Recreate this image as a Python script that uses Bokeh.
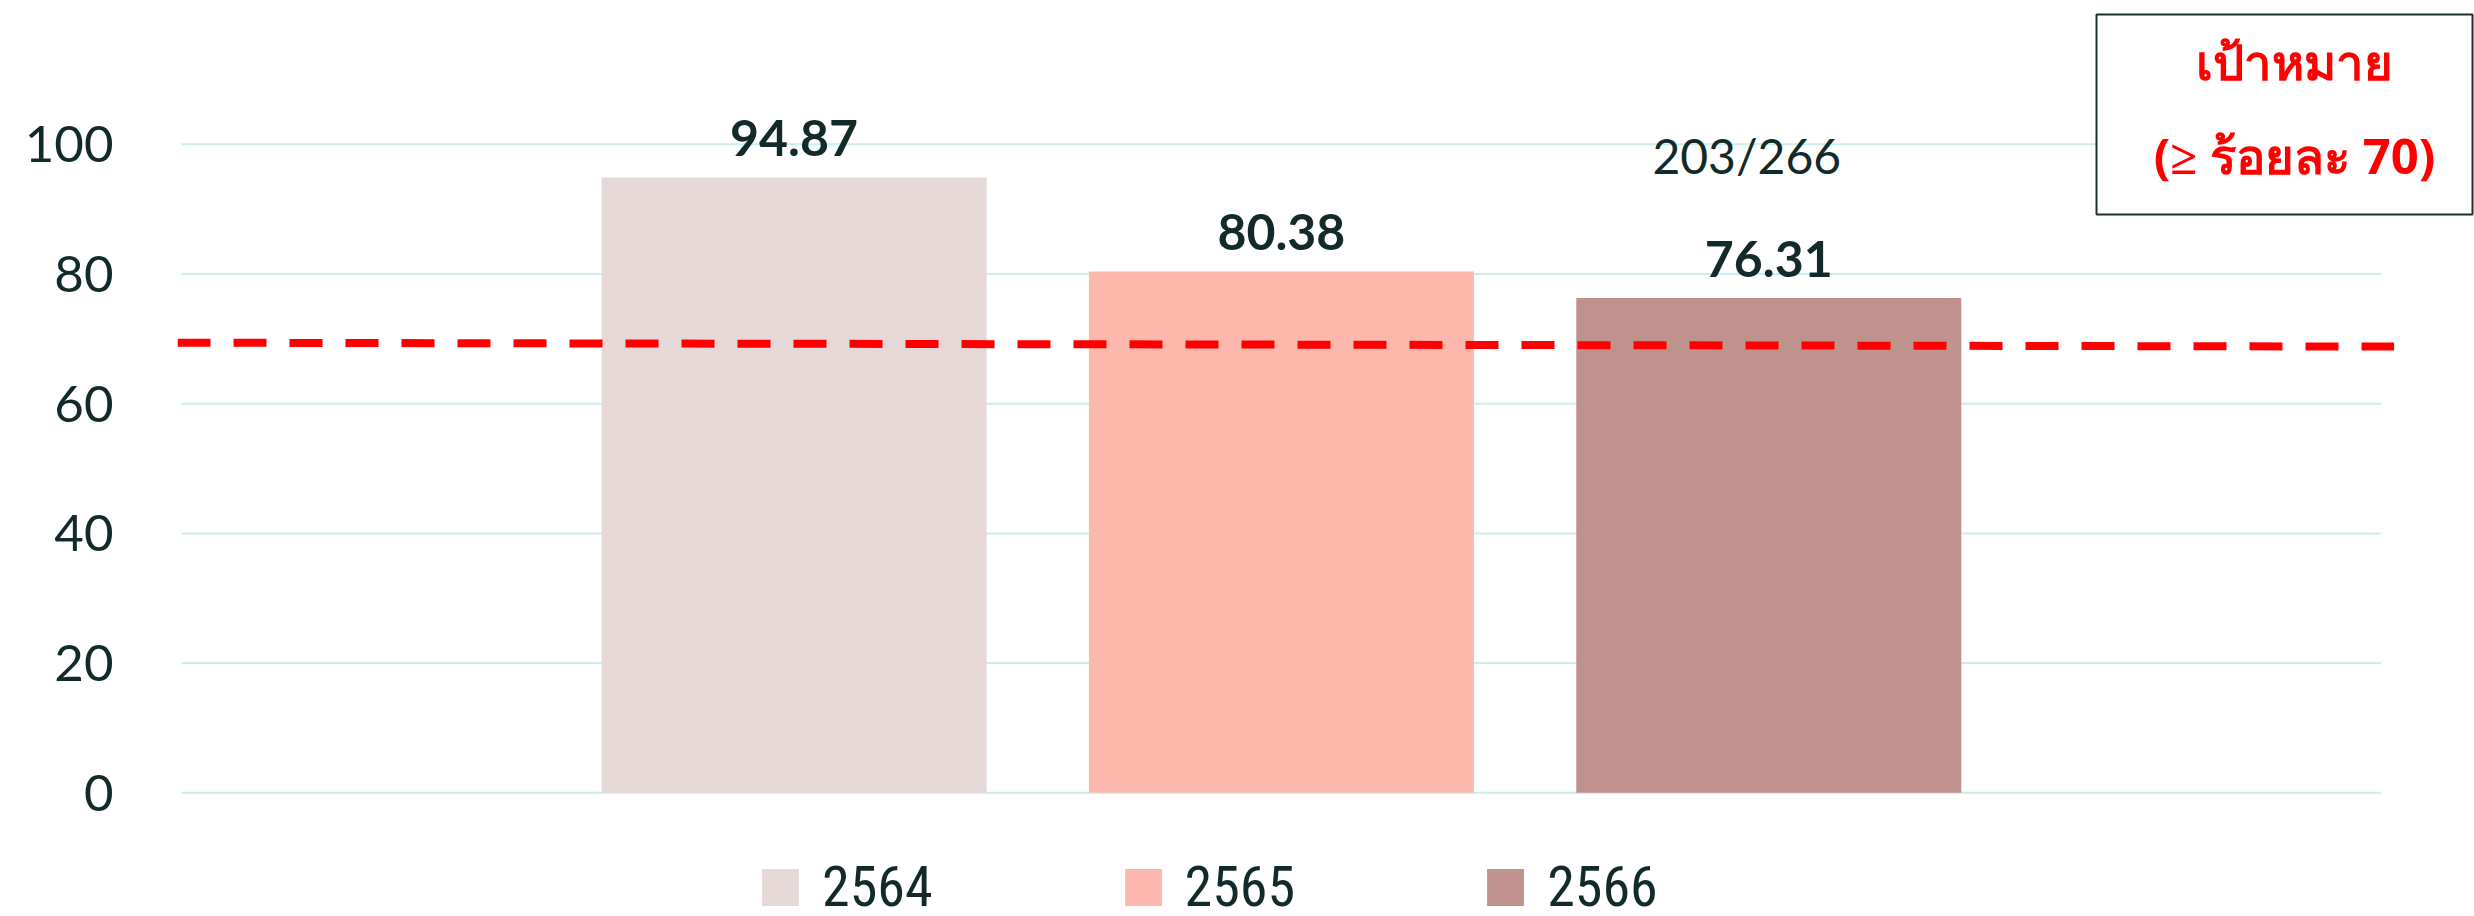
from bokeh.plotting import figure
from bokeh.models import (ColumnDataSource, Range1d, FixedTicker, Legend, LegendItem,
                          Label, LabelSet, BoxAnnotation)
from bokeh.core.properties import value
from bokeh.embed import file_html
from bokeh.resources import INLINE

# ---------------- data ----------------
years = ["2564", "2565", "2566"]
rates = [94.87, 80.38, 76.31]
bar_colors = ["#e7d8d8", "#fdb8ad", "#bf928e"]
note_texts = ["", "", "203/266"]
target_line_y = [69.4, 68.8]          # dashed target line as drawn (left end, right end)
y_ticks = [0, 20, 40, 60, 80, 100]
target_title = "เป้าหมาย"
target_text = "(≥ ร้อยละ 70)"

TXT = "#132a2a"

xs = list(range(len(years)))
src = ColumnDataSource(dict(
    x=xs, top=rates, color=bar_colors, year=years,
    lbl=[f"{v:.2f}" for v in rates], note=note_texts,
))

p = figure(width=2474, height=916, output_backend="svg", toolbar_location=None,
           x_range=Range1d(-1.265, 3.448), y_range=Range1d(-19.07, 122.16),
           min_border=0, min_border_left=177, min_border_right=0,
           min_border_top=0, min_border_bottom=0)
p.outline_line_color = None
p.xaxis.visible = False
p.xgrid.visible = False
p.ygrid.visible = False

ax = p.yaxis[0]
ax.ticker = FixedTicker(ticks=y_ticks)
ax.axis_line_color = None
ax.major_tick_line_color = None
ax.minor_tick_line_color = None
ax.major_tick_out = 0
ax.major_tick_in = 0
ax.major_label_standoff = 64
ax.major_label_text_font = "Lato"
ax.major_label_text_font_size = "51px"
ax.major_label_text_color = TXT

# horizontal gridlines across the category area
grid_x0, grid_x1 = -1.257, 3.256
p.segment(x0=[grid_x0] * len(y_ticks), x1=[grid_x1] * len(y_ticks),
          y0=y_ticks, y1=y_ticks, line_color="#caeeee", line_width=2)

bars = p.vbar(x="x", top="top", width=0.79, bottom=0, fill_color="color",
              line_color=None, source=src)

# dashed target line
p.segment(x0=[-1.265], x1=[3.283], y0=[target_line_y[0]], y1=[target_line_y[1]],
          line_color="#ff0000", line_width=8, line_dash="33 23", line_cap="butt")

p.add_layout(LabelSet(x="x", y="top", text="lbl", source=src, y_offset=21,
                      text_align="center", text_baseline="alphabetic",
                      text_font=value("Lato"), text_font_style="bold",
                      text_font_size="50px", text_color=TXT))
p.add_layout(LabelSet(x="x", y="top", text="note", source=src, y_offset=124, x_offset=-22,
                      text_align="center", text_baseline="alphabetic",
                      text_font=value("Lato"), text_font_size="48px", text_color=TXT))

legend = Legend(items=[LegendItem(label=years[i], renderers=[bars], index=i) for i in xs],
                orientation="horizontal", location=(580, -4),
                glyph_width=46, glyph_height=46, label_standoff=19,
                label_width=110, spacing=187, padding=0, margin=0,
                border_line_color=None, background_fill_alpha=0,
                label_text_font="'Roboto Condensed', 'DejaVu Sans Condensed', Lato",
                label_text_font_size="56px",
                label_text_color=TXT)
p.add_layout(legend)

# target box (screen units relative to frame)
p.add_layout(BoxAnnotation(left=1919, right=2295, top=902, bottom=702,
                           left_units="screen", right_units="screen",
                           top_units="screen", bottom_units="screen",
                           fill_color="white", fill_alpha=1.0,
                           line_color="#1f3030", line_alpha=1.0, line_width=2))
p.add_layout(Label(x=2117, y=856, x_units="screen", y_units="screen",
                   text=target_title, text_align="center", text_baseline="alphabetic",
                   text_font="Noto Sans", text_font_style="bold", text_font_size="49px",
                   text_color="#ff0000"))
p.add_layout(Label(x=2117, y=762, x_units="screen", y_units="screen",
                   text=target_text, text_align="center", text_baseline="alphabetic",
                   text_font="Noto Sans", text_font_style="bold", text_font_size="49px",
                   text_color="#ff0000"))

open("out.html", "w").write(file_html(p, INLINE))
